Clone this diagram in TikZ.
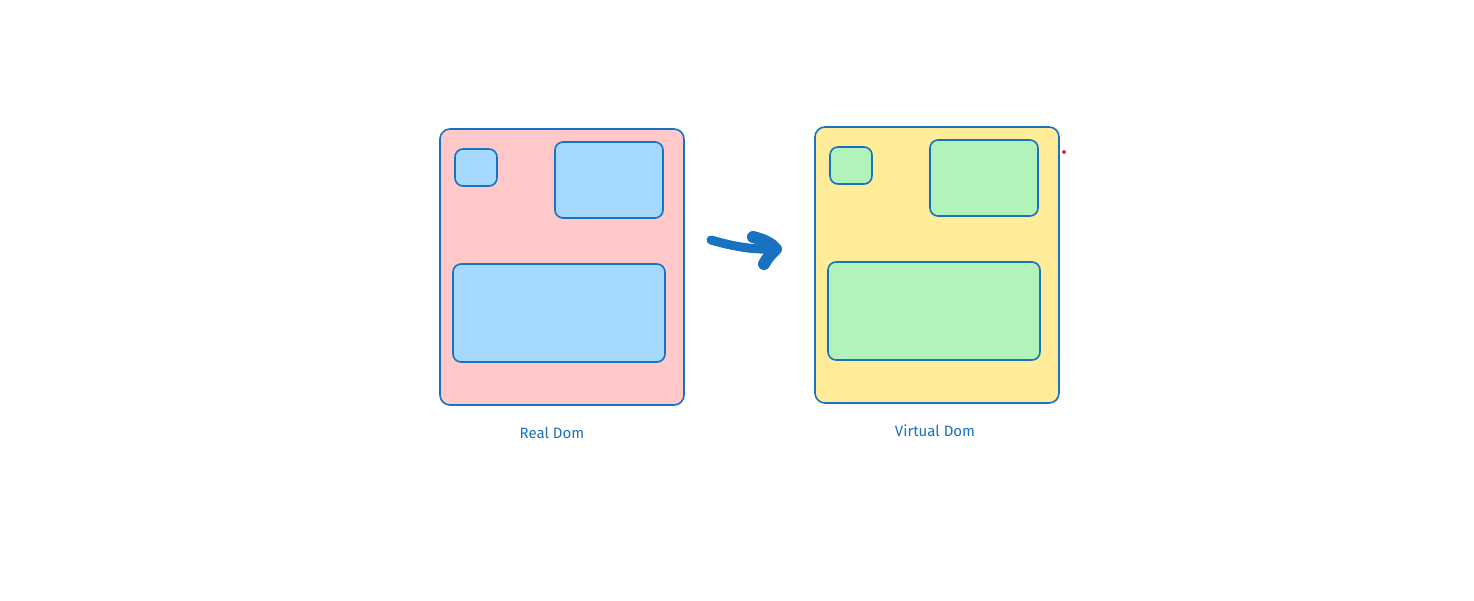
\documentclass[tikz,border=0pt]{standalone}
\usepackage{fontspec}
\setmainfont{Fira Sans}
\definecolor{strokeblue}{HTML}{1971C2}
\definecolor{pinkfill}{HTML}{FFC9C9}
\definecolor{bluefill}{HTML}{A5D8FF}
\definecolor{yellowfill}{HTML}{FFEC99}
\definecolor{greenfill}{HTML}{B2F2BB}
\definecolor{dotred}{HTML}{E03131}
\tikzset{
  box/.style={draw=strokeblue, line width=1.6pt, rounded corners=8pt},
  outerbox/.style={box, rounded corners=10pt},
  lbl/.style={text=strokeblue, font=\fontsize{15}{17}\selectfont, anchor=center},
  bigarrow/.style={draw=strokeblue, line width=9pt, line cap=round, line join=round}
}
\begin{document}
\begin{tikzpicture}[x=1pt,y=-1pt]
\useasboundingbox (0,0) rectangle (1474,600);
% left: Real Dom
\draw[outerbox, fill=pinkfill] (440,129) rectangle (684,405);
\draw[box, fill=bluefill] (455,149) rectangle (497,186);
\draw[box, fill=bluefill] (555,142) rectangle (663,218);
\draw[box, fill=bluefill] (453,264) rectangle (665,362);
\node[lbl] (real) at (552,433) {Real Dom};
% right: Virtual Dom
\draw[outerbox, fill=yellowfill] (815,127) rectangle (1059,403);
\draw[box, fill=greenfill] (830,147) rectangle (872,184);
\draw[box, fill=greenfill] (930,140) rectangle (1038,216);
\draw[box, fill=greenfill] (828,262) rectangle (1040,360);
\node[lbl] (virtual) at (935,431) {Virtual Dom};
% arrow
\coordinate (a0) at (711,240);
\coordinate (a1) at (776,249);
\coordinate (h0) at (753,237);
\coordinate (h1) at (764,264);
\draw[bigarrow] (a0) .. controls (735,247) and (755,250) .. (a1);
\draw[bigarrow, line width=12pt] (h0) .. controls (765,240) and (772,244) .. (a1) .. controls (771,254) and (767,258) .. (h1);
% red dot
\fill[dotred] (1064,152) circle (2);
\end{tikzpicture}
\end{document}
